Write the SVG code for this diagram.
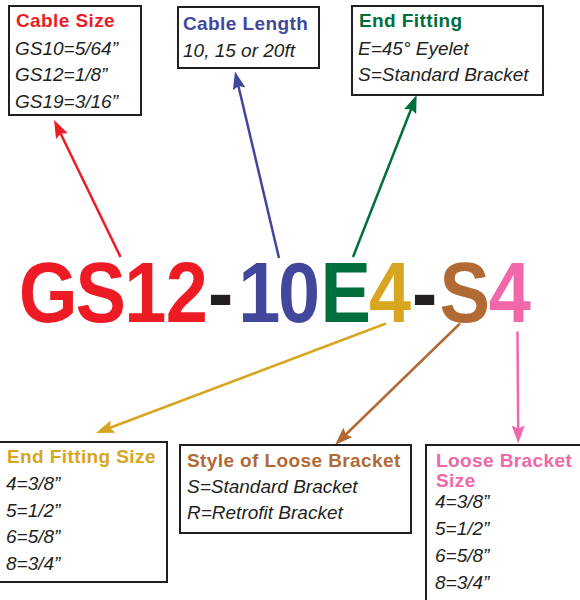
<svg xmlns="http://www.w3.org/2000/svg" width="580" height="600" viewBox="0 0 580 600">
<style>
text{font-family:"Liberation Sans",Arial,Helvetica,sans-serif}
.box{fill:#fff;stroke:#231F20;stroke-width:2}
.h{font-size:19px;font-weight:bold;letter-spacing:0.4px}
.i{font-size:19px;font-style:italic;fill:#231F20}
.big{font-size:86px;font-weight:bold}
.ln{fill:none;stroke-width:2.5}
</style>
<defs>
<marker id="mr" markerUnits="userSpaceOnUse" markerWidth="20" markerHeight="14" refX="8" refY="6.5" orient="auto"><path d="M0,0 L18,6.5 L0,13 L3,6.5 z" fill="#ED1C24"/></marker>
<marker id="mb" markerUnits="userSpaceOnUse" markerWidth="20" markerHeight="14" refX="8" refY="6.5" orient="auto"><path d="M0,0 L18,6.5 L0,13 L3,6.5 z" fill="#43479B"/></marker>
<marker id="mg" markerUnits="userSpaceOnUse" markerWidth="20" markerHeight="14" refX="8" refY="6.5" orient="auto"><path d="M0,0 L18,6.5 L0,13 L3,6.5 z" fill="#006F3B"/></marker>
<marker id="my" markerUnits="userSpaceOnUse" markerWidth="20" markerHeight="14" refX="8" refY="6.5" orient="auto"><path d="M0,0 L18,6.5 L0,13 L3,6.5 z" fill="#D8A520"/></marker>
<marker id="mn" markerUnits="userSpaceOnUse" markerWidth="20" markerHeight="14" refX="8" refY="6.5" orient="auto"><path d="M0,0 L18,6.5 L0,13 L3,6.5 z" fill="#B26A35"/></marker>
<marker id="mp" markerUnits="userSpaceOnUse" markerWidth="20" markerHeight="14" refX="8" refY="6.5" orient="auto"><path d="M0,0 L18,6.5 L0,13 L3,6.5 z" fill="#F068A9"/></marker>
</defs>

<g id="part-number">
<text class="big" y="322" transform="scale(0.88,1)"><tspan fill="#ED1C24" x="21.2 85.7 141.2 188.3">GS12</tspan><tspan fill="#231F20" x="236.4">-</tspan><tspan fill="#43479B" x="270.8 315.9">10</tspan><tspan fill="#006F3B" x="364.2">E</tspan><tspan fill="#D8A520" x="419.2">4</tspan><tspan fill="#231F20" x="468.2">-</tspan><tspan fill="#B26A35" x="499.4">S</tspan><tspan fill="#F068A9" x="555.5">4</tspan></text>
</g>

<g id="connectors">
<line class="ln" stroke="#ED1C24" x1="120.5" y1="257" x2="58.4" y2="129" marker-end="url(#mr)"/>
<line class="ln" stroke="#43479B" x1="279" y1="258" x2="237.3" y2="81.2" marker-end="url(#mb)"/>
<line class="ln" stroke="#006F3B" x1="353" y1="257" x2="413" y2="104.3" marker-end="url(#mg)"/>
<line class="ln" stroke="#D8A520" x1="386" y1="323.5" x2="105.4" y2="429.5" marker-end="url(#my)"/>
<line class="ln" stroke="#B26A35" x1="460" y1="323.5" x2="342.2" y2="438" marker-end="url(#mn)"/>
<line class="ln" stroke="#F068A9" x1="517.5" y1="331.5" x2="518.2" y2="433.5" marker-end="url(#mp)"/>
</g>

<g id="cable-size">
<rect class="box" x="9" y="6" width="132" height="109"/>
<text class="h" x="16" y="27" fill="#ED1C24">Cable Size</text>
<text class="i" x="15" y="54.5">GS10=5/64”</text>
<text class="i" x="15" y="81">GS12=1/8”</text>
<text class="i" x="15" y="107.5">GS19=3/16”</text>
</g>

<g id="cable-length">
<rect class="box" x="178" y="7" width="141" height="61"/>
<text class="h" x="183" y="30" fill="#43479B">Cable Length</text>
<text class="i" x="183" y="57">10, 15 or 20ft</text>
</g>

<g id="end-fitting">
<rect class="box" x="352" y="6" width="191" height="89"/>
<text class="h" x="359" y="27" fill="#006F3B">End Fitting</text>
<text class="i" x="358" y="54.5">E=45° Eyelet</text>
<text class="i" x="358" y="81">S=Standard Bracket</text>
</g>

<g id="end-fitting-size">
<rect class="box" x="-1" y="442" width="168" height="140"/>
<text class="h" x="7" y="463" fill="#D8A520">End Fitting Size</text>
<text class="i" x="6" y="490">4=3/8”</text>
<text class="i" x="6" y="517">5=1/2”</text>
<text class="i" x="6" y="543">6=5/8”</text>
<text class="i" x="6" y="570">8=3/4”</text>
</g>

<g id="loose-bracket-style">
<rect class="box" x="180" y="445" width="231" height="88"/>
<text class="h" x="187" y="467" fill="#B26A35">Style of Loose Bracket</text>
<text class="i" x="187" y="493">S=Standard Bracket</text>
<text class="i" x="187" y="519">R=Retrofit Bracket</text>
</g>

<g id="loose-bracket-size">
<rect class="box" x="426" y="445" width="170" height="170"/>
<text class="h" x="436" y="467" fill="#F068A9">Loose Bracket</text>
<text class="h" x="436" y="487" fill="#F068A9">Size</text>
<text class="i" x="435" y="508">4=3/8”</text>
<text class="i" x="435" y="535">5=1/2”</text>
<text class="i" x="435" y="562">6=5/8”</text>
<text class="i" x="435" y="589">8=3/4”</text>
</g>
</svg>
